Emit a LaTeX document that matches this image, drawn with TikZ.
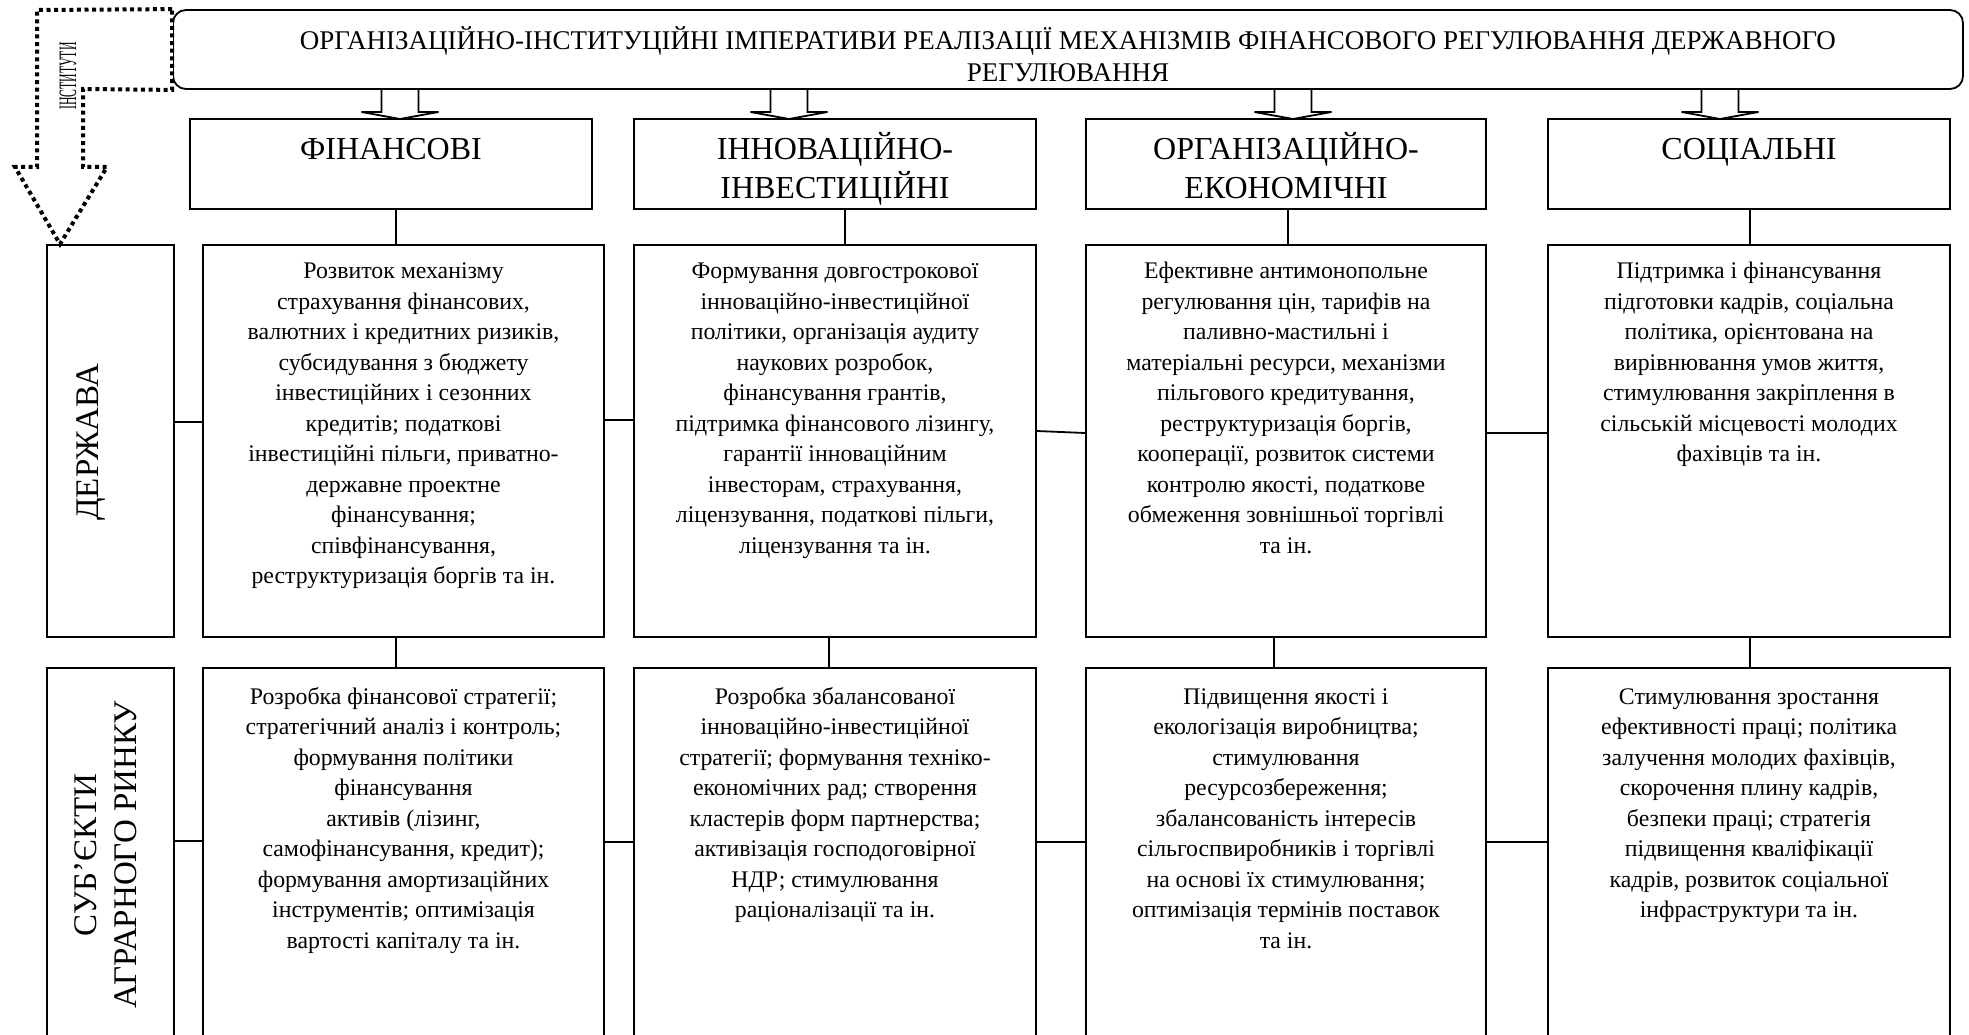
\documentclass[tikz,border=0pt]{standalone}
\usepackage{fontspec}
\usepackage{graphicx}
\setmainfont{Liberation Serif}
\usetikzlibrary{calc}
\newcommand\toprule[1]{\rule{0pt}{#1}}
\begin{document}
\begin{tikzpicture}[x=1pt,y=-1pt,
  frame/.style={draw, line width=1.8pt, inner sep=0pt},
  catbox/.style={frame, minimum height=90pt},
  infobox/.style={frame, minimum height=392pt},
  link/.style={line width=1.8pt},
  bigarrow/.style={line width=1.8pt, line join=miter},
  dotline/.style={line width=4pt, dash pattern=on 4pt off 3.6pt},
  cattext/.style={font=\fontsize{32}{39}\selectfont, align=center, inner sep=0pt, anchor=north},
  sidetext/.style={font=\fontsize{33}{40}\selectfont, align=center, inner sep=0pt, rotate=90},
  infotext/.style={font=\fontsize{23.8}{30.5}\selectfont, align=center, inner sep=0pt, anchor=north},
]
\useasboundingbox (0,0) rectangle (1969,1035);
\fill[white] (0,0) rectangle (1969,1035);
\clip (0,0) rectangle (1969,1035);

% title block
\node[frame, rounded corners=13pt, minimum width=1790pt, minimum height=79pt] (hdr) at (1068,49.5) {};
\node[font=\fontsize{27}{32}\selectfont, align=center, inner sep=0pt] (hdrtext) at (1068,54)
  {ОРГАНІЗАЦІЙНО-ІНСТИТУЦІЙНІ ІМПЕРАТИВИ РЕАЛІЗАЦІЇ МЕХАНІЗМІВ ФІНАНСОВОГО РЕГУЛЮВАННЯ ДЕРЖАВНОГО\\РЕГУЛЮВАННЯ};

% four groups of imperatives
\node[catbox, minimum width=402pt] (c1) at (391,164) {};
\node[catbox, minimum width=402pt] (c2) at (835,164) {};
\node[catbox, minimum width=400pt] (c3) at (1286,164) {};
\node[catbox, minimum width=402pt] (c4) at (1749,164) {};
\node[cattext] (c1t) at (391,131) {\toprule{28pt}ФІНАНСОВІ};
\node[cattext] (c2t) at (835,131) {\toprule{28pt}ІННОВАЦІЙНО-\\ІНВЕСТИЦІЙНІ};
\node[cattext] (c3t) at (1286,131) {\toprule{28pt}ОРГАНІЗАЦІЙНО-\\ЕКОНОМІЧНІ};
\node[cattext] (c4t) at (1749,131) {\toprule{28pt}СОЦІАЛЬНІ};

% row labels
\node[infobox, minimum width=127pt] (l1) at (110.5,441) {};
\node[infobox, minimum width=127pt] (l2) at (110.5,864) {};
\node[sidetext] (l1t) at (91,442) {ДЕРЖАВА};
\node[sidetext] (l2t) at (106,855) {СУБ’ЄКТИ\\АГРАРНОГО РИНКУ};

% state level
\node[infobox, minimum width=401pt] (d1) at (403.5,441) {};
\node[infobox, minimum width=402pt] (d2) at (835,441) {};
\node[infobox, minimum width=400pt] (d3) at (1286,441) {};
\node[infobox, minimum width=402pt] (d4) at (1749,441) {};

% market participants level
\node[infobox, minimum width=401pt] (e1) at (403.5,864) {};
\node[infobox, minimum width=402pt] (e2) at (835,864) {};
\node[infobox, minimum width=400pt] (e3) at (1286,864) {};
\node[infobox, minimum width=402pt] (e4) at (1749,864) {};

\node[infotext] (d1t) at (403.5,258.5) {\toprule{20pt}Розвиток механізму\\страхування фінансових,\\валютних і кредитних ризиків,\\субсидування з бюджету\\інвестиційних і сезонних\\кредитів; податкові\\інвестиційні пільги, приватно-\\державне проектне\\фінансування;\\співфінансування,\\реструктуризація боргів та ін.};
\node[infotext] (d2t) at (835,258.5) {\toprule{20pt}Формування довгострокової\\інноваційно-інвестиційної\\політики, організація аудиту\\наукових розробок,\\фінансування грантів,\\підтримка фінансового лізингу,\\гарантії інноваційним\\інвесторам, страхування,\\ліцензування, податкові пільги,\\ліцензування та ін.};
\node[infotext] (d3t) at (1286,258.5) {\toprule{20pt}Ефективне антимонопольне\\регулювання цін, тарифів на\\паливно-мастильні і\\матеріальні ресурси, механізми\\пільгового кредитування,\\реструктуризація боргів,\\кооперації, розвиток системи\\контролю якості, податкове\\обмеження зовнішньої торгівлі\\та ін.};
\node[infotext] (d4t) at (1749,258.5) {\toprule{20pt}Підтримка і фінансування\\підготовки кадрів, соціальна\\політика, орієнтована на\\вирівнювання умов життя,\\стимулювання закріплення в\\сільській місцевості молодих\\фахівців та ін.};

\node[infotext] (e1t) at (403.5,684) {\toprule{20pt}Розробка фінансової стратегії;\\стратегічний аналіз і контроль;\\формування політики\\фінансування\\активів (лізинг,\\самофінансування, кредит);\\формування амортизаційних\\інструментів; оптимізація\\вартості капіталу та ін.};
\node[infotext] (e2t) at (835,684) {\toprule{20pt}Розробка збалансованої\\інноваційно-інвестиційної\\стратегії; формування техніко-\\економічних рад; створення\\кластерів форм партнерства;\\активізація господоговірної\\НДР; стимулювання\\раціоналізації та ін.};
\node[infotext] (e3t) at (1286,684) {\toprule{20pt}Підвищення якості і\\екологізація виробництва;\\стимулювання\\ресурсозбереження;\\збалансованість інтересів\\сільгоспвиробників і торгівлі\\на основі їх стимулювання;\\оптимізація термінів поставок\\та ін.};
\node[infotext] (e4t) at (1749,684) {\toprule{20pt}Стимулювання зростання\\ефективності праці; політика\\залучення молодих фахівців,\\скорочення плину кадрів,\\безпеки праці; стратегія\\підвищення кваліфікації\\кадрів, розвиток соціальної\\інфраструктури та ін.};

% block arrows from the title to the groups
\coordinate (t1) at (400,119);
\coordinate (t2) at (789,119);
\coordinate (t3) at (1293,119);
\coordinate (t4) at (1720,119);
\foreach \t in {t1,t2,t3,t4}{
  \draw[bigarrow] ($(\t)+(-18.5,-30)$) -- ++(0,23) -- ++(-20,0) -- (\t) -- ++(38.5,-7) -- ++(-20,0) -- ++(0,-23);
}

% vertical links
\coordinate (k1) at (396,0);
\coordinate (k2) at (845,0);
\coordinate (k3) at (1288,0);
\coordinate (k4) at (1750,0);
\coordinate (m1) at (396,0);
\coordinate (m2) at (829,0);
\coordinate (m3) at (1274,0);
\coordinate (m4) at (1750,0);
\draw[link] (k1 |- c1.south) -- (k1 |- d1.north);
\draw[link] (k2 |- c2.south) -- (k2 |- d2.north);
\draw[link] (k3 |- c3.south) -- (k3 |- d3.north);
\draw[link] (k4 |- c4.south) -- (k4 |- d4.north);
\draw[link] (m1 |- d1.south) -- (m1 |- e1.north);
\draw[link] (m2 |- d2.south) -- (m2 |- e2.north);
\draw[link] (m3 |- d3.south) -- (m3 |- e3.north);
\draw[link] (m4 |- d4.south) -- (m4 |- e4.north);

% horizontal links
\draw[link] (l1.east |- 0,422) -- (d1.west |- 0,422);
\draw[link] (d1.east |- 0,420) -- (d2.west |- 0,420);
\draw[link] (d2.east |- 0,431) -- (d3.west |- 0,433);
\draw[link] (d3.east |- 0,433) -- (d4.west |- 0,433);
\draw[link] (l2.east |- 0,841) -- (e1.west |- 0,841);
\draw[link] (e1.east |- 0,842) -- (e2.west |- 0,842);
\draw[link] (e2.east |- 0,842) -- (e3.west |- 0,842);
\draw[link] (e3.east |- 0,842) -- (e4.west |- 0,842);

% dotted arrow of institutions
\draw[white, line width=2.4pt] ($(hdr.north west)+(0,12)$) -- ($(hdr.south west)+(0,-12)$);
\draw[dotline] (hdr.north west) -- (37,10) -- (37,167) -- (15,167) -- (l1.north -| 60,0) -- (107,167) -- (83,167) -- (83,89) -- (hdr.south west) -- cycle;
\node[rotate=90, font=\fontsize{25}{25}\selectfont, inner sep=0pt] (inst) at (68,76) {\scalebox{0.47}[1]{ІНСТИТУТИ}};
\end{tikzpicture}
\end{document}
